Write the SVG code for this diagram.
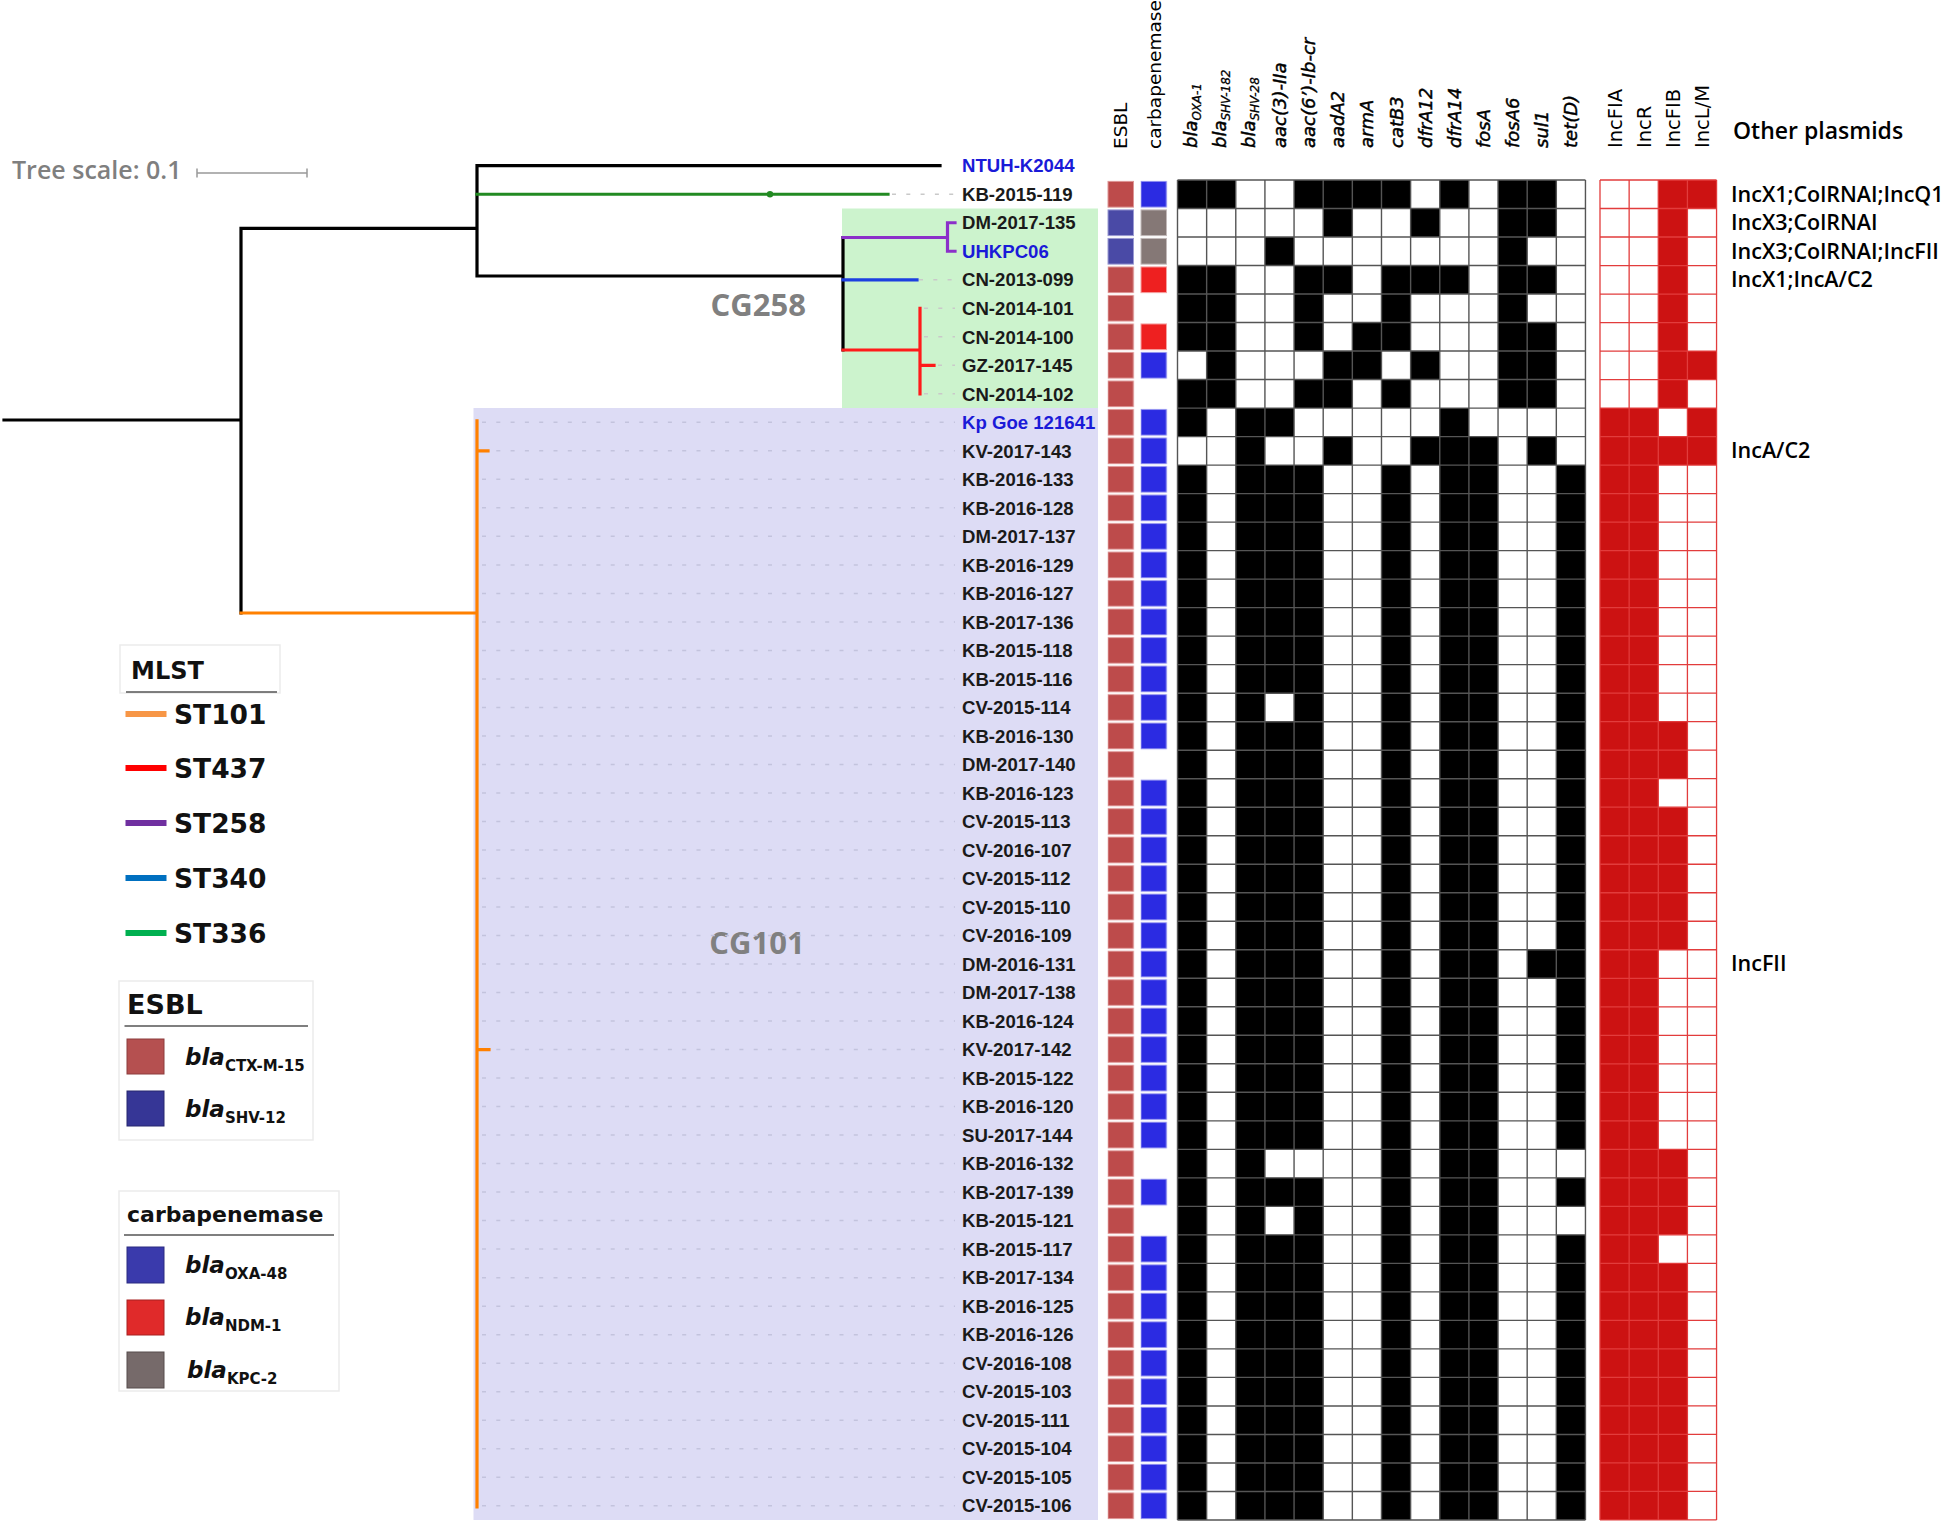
<svg xmlns="http://www.w3.org/2000/svg" width="1950" height="1524" viewBox="0 0 1950 1524">
<defs>
<style>
.lf{font-family:"Liberation Sans",Arial,sans-serif;font-weight:bold;font-size:18.6px;fill:#1a1a1a}
.lb{fill:#1a1ad8}
.hd{font-family:"DejaVu Sans",Verdana,sans-serif;font-size:18.5px;fill:#000}
.gi{font-style:italic;font-size:18px;stroke:#000;stroke-width:0.45px}
.sb{font-size:12px;stroke-width:0.3px}
.ph{font-family:"DejaVu Sans",Verdana,sans-serif;font-size:19.5px;fill:#000}
.op{font-family:"Open Sans",sans-serif;font-weight:600;font-size:21.5px;fill:#000}
.lg{font-family:"DejaVu Sans",Verdana,sans-serif;font-weight:bold;fill:#111}
.li{font-style:italic;font-size:23px}
.ls{font-size:15px}
.cg{font-family:"Open Sans",sans-serif;font-weight:700;font-size:31px;fill:#808080}
.br{fill:none;stroke-width:3.2;stroke-linecap:square}
.ld{fill:none;stroke-width:1.5;stroke-dasharray:4 10.3}
.nss{vector-effect:non-scaling-stroke}
.box{fill:#fff;stroke:#ebebeb;stroke-width:1.5}
.ul{stroke:#555;stroke-width:1.5}
</style>
<pattern id="pE" patternUnits="userSpaceOnUse" x="1107.5" y="180" width="30" height="28.51"><rect x="0.5" y="1.4" width="25.5" height="25.7" fill="#bd4b4b" stroke="#dd9595" stroke-width="1"/></pattern>
<pattern id="pO" patternUnits="userSpaceOnUse" x="1140.5" y="180" width="30" height="28.51"><rect x="0.5" y="1.4" width="25.5" height="25.7" fill="#2b2be2" stroke="#8f8ff0" stroke-width="1"/></pattern>
</defs>
<rect width="1950" height="1524" fill="#fff"/>

<!-- clade backgrounds -->
<g id="clade-boxes">
<rect x="842" y="208.5" width="256" height="199.5" fill="#ccf3cd"/>
<rect x="473.5" y="408" width="624.5" height="1112" fill="#dddcf5"/>
<text class="cg" x="806" y="316" text-anchor="end">CG258</text>
<text class="cg" x="757" y="954" text-anchor="middle">CG101</text>
</g>

<!-- tree scale -->
<g id="tree-scale">
<text x="12" y="179" font-family="Open Sans, sans-serif" font-weight="600" font-size="25" fill="#7f7f7f">Tree scale: 0.1</text>
<path d="M197 173H307M197 168.5V177.5M307 168.5V177.5" stroke="#999" stroke-width="1.5" fill="none"/>
</g>

<!-- connectors: tree branches and leader lines -->
<g id="connectors">
<path class="ld" stroke="#c9c9c9" d="M892 194.25H955M919 279.78H955M924 308.29H955M924 336.8H955M938 365.31H955M924 393.82H955"/>
<path class="ld" stroke="#c3c3dd" d="M482 422.33H955M482 450.84H955M482 479.35H955M482 507.86H955M482 536.37H955M482 564.88H955M482 593.39H955M482 621.9H955M482 650.41H955M482 678.92H955M482 707.43H955M482 735.94H955M482 764.45H955M482 792.96H955M482 821.47H955M482 849.98H955M482 878.49H955M482 907H955M482 935.51H955M482 964.02H955M482 992.53H955M482 1021.04H955M482 1049.55H955M482 1078.06H955M482 1106.57H955M482 1135.08H955M482 1163.59H955M482 1192.1H955M482 1220.61H955M482 1249.12H955M482 1277.63H955M482 1306.14H955M482 1334.65H955M482 1363.16H955M482 1391.67H955M482 1420.18H955M482 1448.69H955M482 1477.2H955M482 1505.71H955"/>
<path class="br" stroke="#000" d="M4 420H241M241 228.3V613M241 228.3H477M477 165.7V276M477 165.7H940M477 276H843M843 237.5V350"/>
<path class="br" stroke="#228a22" d="M477 194.25H888"/>
<circle cx="770" cy="194.25" r="3.2" fill="#228a22"/>
<path class="br" stroke="#8b2fc9" d="M843 237.5H947.5M947.5 222.76V251.27M947.5 222.76H955M947.5 251.27H955"/>
<path class="br" stroke="#1c3fe0" d="M843 279.8H917"/>
<path class="br" stroke="#ff1a1a" d="M843 350H920M920 308.3V393.8M920 365.3H934"/>
<path class="br" stroke="#ff8000" stroke-linecap="butt" d="M241 613H477M477 420.8V1507M477 450.84H488M477 1049.55H489"/>
</g>

<!-- leaves -->
<g id="leaf-NTUH-K2044"><text class="lf lb" x="962" y="172.4">NTUH-K2044</text></g>
<g id="leaf-KB-2015-119"><text class="lf" x="962" y="200.95">KB-2015-119</text></g>
<g id="leaf-DM-2017-135"><text class="lf" x="962" y="229.46">DM-2017-135</text></g>
<g id="leaf-UHKPC06"><text class="lf lb" x="962" y="257.97">UHKPC06</text></g>
<g id="leaf-CN-2013-099"><text class="lf" x="962" y="286.48">CN-2013-099</text></g>
<g id="leaf-CN-2014-101"><text class="lf" x="962" y="314.99">CN-2014-101</text></g>
<g id="leaf-CN-2014-100"><text class="lf" x="962" y="343.5">CN-2014-100</text></g>
<g id="leaf-GZ-2017-145"><text class="lf" x="962" y="372.01">GZ-2017-145</text></g>
<g id="leaf-CN-2014-102"><text class="lf" x="962" y="400.52">CN-2014-102</text></g>
<g id="leaf-Kp-Goe-121641"><text class="lf lb" x="962" y="429.03">Kp Goe 121641</text></g>
<g id="leaf-KV-2017-143"><text class="lf" x="962" y="457.54">KV-2017-143</text></g>
<g id="leaf-KB-2016-133"><text class="lf" x="962" y="486.05">KB-2016-133</text></g>
<g id="leaf-KB-2016-128"><text class="lf" x="962" y="514.56">KB-2016-128</text></g>
<g id="leaf-DM-2017-137"><text class="lf" x="962" y="543.07">DM-2017-137</text></g>
<g id="leaf-KB-2016-129"><text class="lf" x="962" y="571.58">KB-2016-129</text></g>
<g id="leaf-KB-2016-127"><text class="lf" x="962" y="600.09">KB-2016-127</text></g>
<g id="leaf-KB-2017-136"><text class="lf" x="962" y="628.6">KB-2017-136</text></g>
<g id="leaf-KB-2015-118"><text class="lf" x="962" y="657.11">KB-2015-118</text></g>
<g id="leaf-KB-2015-116"><text class="lf" x="962" y="685.62">KB-2015-116</text></g>
<g id="leaf-CV-2015-114"><text class="lf" x="962" y="714.13">CV-2015-114</text></g>
<g id="leaf-KB-2016-130"><text class="lf" x="962" y="742.64">KB-2016-130</text></g>
<g id="leaf-DM-2017-140"><text class="lf" x="962" y="771.15">DM-2017-140</text></g>
<g id="leaf-KB-2016-123"><text class="lf" x="962" y="799.66">KB-2016-123</text></g>
<g id="leaf-CV-2015-113"><text class="lf" x="962" y="828.17">CV-2015-113</text></g>
<g id="leaf-CV-2016-107"><text class="lf" x="962" y="856.68">CV-2016-107</text></g>
<g id="leaf-CV-2015-112"><text class="lf" x="962" y="885.19">CV-2015-112</text></g>
<g id="leaf-CV-2015-110"><text class="lf" x="962" y="913.7">CV-2015-110</text></g>
<g id="leaf-CV-2016-109"><text class="lf" x="962" y="942.21">CV-2016-109</text></g>
<g id="leaf-DM-2016-131"><text class="lf" x="962" y="970.72">DM-2016-131</text></g>
<g id="leaf-DM-2017-138"><text class="lf" x="962" y="999.23">DM-2017-138</text></g>
<g id="leaf-KB-2016-124"><text class="lf" x="962" y="1027.74">KB-2016-124</text></g>
<g id="leaf-KV-2017-142"><text class="lf" x="962" y="1056.25">KV-2017-142</text></g>
<g id="leaf-KB-2015-122"><text class="lf" x="962" y="1084.76">KB-2015-122</text></g>
<g id="leaf-KB-2016-120"><text class="lf" x="962" y="1113.27">KB-2016-120</text></g>
<g id="leaf-SU-2017-144"><text class="lf" x="962" y="1141.78">SU-2017-144</text></g>
<g id="leaf-KB-2016-132"><text class="lf" x="962" y="1170.29">KB-2016-132</text></g>
<g id="leaf-KB-2017-139"><text class="lf" x="962" y="1198.8">KB-2017-139</text></g>
<g id="leaf-KB-2015-121"><text class="lf" x="962" y="1227.31">KB-2015-121</text></g>
<g id="leaf-KB-2015-117"><text class="lf" x="962" y="1255.82">KB-2015-117</text></g>
<g id="leaf-KB-2017-134"><text class="lf" x="962" y="1284.33">KB-2017-134</text></g>
<g id="leaf-KB-2016-125"><text class="lf" x="962" y="1312.84">KB-2016-125</text></g>
<g id="leaf-KB-2016-126"><text class="lf" x="962" y="1341.35">KB-2016-126</text></g>
<g id="leaf-CV-2016-108"><text class="lf" x="962" y="1369.86">CV-2016-108</text></g>
<g id="leaf-CV-2015-103"><text class="lf" x="962" y="1398.37">CV-2015-103</text></g>
<g id="leaf-CV-2015-111"><text class="lf" x="962" y="1426.88">CV-2015-111</text></g>
<g id="leaf-CV-2015-104"><text class="lf" x="962" y="1455.39">CV-2015-104</text></g>
<g id="leaf-CV-2015-105"><text class="lf" x="962" y="1483.9">CV-2015-105</text></g>
<g id="leaf-CV-2015-106"><text class="lf" x="962" y="1512.41">CV-2015-106</text></g>

<!-- ESBL and carbapenemase columns -->
<g id="esbl-column">
<rect x="1108" y="181.4" width="25.5" height="25.7" fill="#bd4b4b" stroke="#dd9595" stroke-width="1"/>
<rect x="1108" y="209.91" width="25.5" height="25.7" fill="#4a4aa6" stroke="#9a9ad2" stroke-width="1"/>
<rect x="1108" y="238.42" width="25.5" height="25.7" fill="#4a4aa6" stroke="#9a9ad2" stroke-width="1"/>
<rect x="1107.5" y="265.53" width="27" height="1254.44" fill="url(#pE)"/>
</g>
<g id="carbapenemase-column">
<rect x="1140.5" y="180" width="27" height="28.51" fill="url(#pO)"/>
<rect x="1141" y="209.91" width="25.5" height="25.7" fill="#857876" stroke="#c2b9b9" stroke-width="1"/>
<rect x="1141" y="238.42" width="25.5" height="25.7" fill="#857876" stroke="#c2b9b9" stroke-width="1"/>
<rect x="1141" y="266.93" width="25.5" height="25.7" fill="#ee2020" stroke="#f5a0a0" stroke-width="1"/>
<rect x="1141" y="323.95" width="25.5" height="25.7" fill="#ee2020" stroke="#f5a0a0" stroke-width="1"/>
<rect x="1140.5" y="351.06" width="27" height="28.51" fill="url(#pO)"/>
<rect x="1140.5" y="408.08" width="27" height="342.12" fill="url(#pO)"/>
<rect x="1140.5" y="778.71" width="27" height="370.63" fill="url(#pO)"/>
<rect x="1140.5" y="1177.85" width="27" height="28.51" fill="url(#pO)"/>
<rect x="1140.5" y="1234.87" width="27" height="285.1" fill="url(#pO)"/>
</g>

<!-- gene presence matrix -->
<g id="gene-matrix" transform="translate(1177.5,180) scale(29.14,28.51)">
<rect width="14" height="47" fill="#fff"/>
<path fill="#000" d="M0 0h1v1h-1zM0 3h1v3h-1zM0 7h1v2h-1zM0 10h1v37h-1zM1 0h1v1h-1zM1 3h1v5h-1zM2 8h1v39h-1zM3 2h1v1h-1zM3 8h1v1h-1zM3 10h1v8h-1zM3 19h1v15h-1zM3 35h1v1h-1zM3 37h1v10h-1zM4 0h1v1h-1zM4 3h1v3h-1zM4 7h1v1h-1zM4 10h1v24h-1zM4 35h1v12h-1zM5 0h1v2h-1zM5 3h1v1h-1zM5 6h1v2h-1zM5 9h1v1h-1zM6 0h1v1h-1zM6 5h1v2h-1zM7 0h1v1h-1zM7 3h1v3h-1zM7 7h1v1h-1zM7 10h1v37h-1zM8 1h1v1h-1zM8 3h1v1h-1zM8 6h1v1h-1zM8 9h1v1h-1zM9 0h1v1h-1zM9 3h1v1h-1zM9 8h1v39h-1zM10 9h1v38h-1zM11 0h1v8h-1zM12 0h1v2h-1zM12 3h1v1h-1zM12 5h1v3h-1zM12 9h1v1h-1zM12 27h1v1h-1zM13 10h1v24h-1zM13 35h1v1h-1zM13 37h1v10h-1z"/>
<path class="nss" fill="none" stroke="#555" stroke-width="1.4" d="M0 0H14M0 1H14M0 2H14M0 3H14M0 4H14M0 5H14M0 6H14M0 7H14M0 8H14M0 9H14M0 10H14M0 11H14M0 12H14M0 13H14M0 14H14M0 15H14M0 16H14M0 17H14M0 18H14M0 19H14M0 20H14M0 21H14M0 22H14M0 23H14M0 24H14M0 25H14M0 26H14M0 27H14M0 28H14M0 29H14M0 30H14M0 31H14M0 32H14M0 33H14M0 34H14M0 35H14M0 36H14M0 37H14M0 38H14M0 39H14M0 40H14M0 41H14M0 42H14M0 43H14M0 44H14M0 45H14M0 46H14M0 47H14M0 0V47M1 0V47M2 0V47M3 0V47M4 0V47M5 0V47M6 0V47M7 0V47M8 0V47M9 0V47M10 0V47M11 0V47M12 0V47M13 0V47M14 0V47"/>
</g>

<!-- plasmid replicon matrix -->
<g id="plasmid-matrix" transform="translate(1600,180) scale(29.14,28.51)">
<rect width="4" height="47" fill="#fff"/>
<path fill="#cc1212" d="M0 8h2v39h-2zM2 0h1v8h-1zM2 9h1v1h-1zM2 19h1v2h-1zM2 22h1v5h-1zM2 34h1v3h-1zM2 38h1v9h-1zM3 0h1v1h-1zM3 6h1v1h-1zM3 8h1v2h-1z"/>
<path class="nss" fill="none" stroke="#e23c3c" stroke-width="1.3" d="M0 0H4M0 1H4M0 2H4M0 3H4M0 4H4M0 5H4M0 6H4M0 7H4M0 8H4M0 9H4M0 10H4M0 11H4M0 12H4M0 13H4M0 14H4M0 15H4M0 16H4M0 17H4M0 18H4M0 19H4M0 20H4M0 21H4M0 22H4M0 23H4M0 24H4M0 25H4M0 26H4M0 27H4M0 28H4M0 29H4M0 30H4M0 31H4M0 32H4M0 33H4M0 34H4M0 35H4M0 36H4M0 37H4M0 38H4M0 39H4M0 40H4M0 41H4M0 42H4M0 43H4M0 44H4M0 45H4M0 46H4M0 47H4M0 0V47M1 0V47M2 0V47M3 0V47M4 0V47"/>
</g>

<!-- column headers -->
<g id="headers">
<text class="hd" transform="translate(1127.2,149) rotate(-90)">ESBL</text>
<text class="hd" transform="translate(1160.5,149) rotate(-90)">carbapenemase</text>
<text class="hd gi" transform="translate(1196.5,148) rotate(-90)">bla<tspan class="sb" dy="4">OXA-1</tspan></text>
<text class="hd gi" transform="translate(1225.6,148) rotate(-90)">bla<tspan class="sb" dy="4">SHV-182</tspan></text>
<text class="hd gi" transform="translate(1254.8,148) rotate(-90)">bla<tspan class="sb" dy="4">SHV-28</tspan></text>
<text class="hd gi" transform="translate(1286,148) rotate(-90)">aac(3)-IIa</text>
<text class="hd gi" transform="translate(1315.1,148) rotate(-90)">aac(6’)-Ib-cr</text>
<text class="hd gi" transform="translate(1344.3,148) rotate(-90)">aadA2</text>
<text class="hd gi" transform="translate(1373.4,148) rotate(-90)">armA</text>
<text class="hd gi" transform="translate(1402.6,148) rotate(-90)">catB3</text>
<text class="hd gi" transform="translate(1431.7,148) rotate(-90)">dfrA12</text>
<text class="hd gi" transform="translate(1460.8,148) rotate(-90)">dfrA14</text>
<text class="hd gi" transform="translate(1490,148) rotate(-90)">fosA</text>
<text class="hd gi" transform="translate(1519.1,148) rotate(-90)">fosA6</text>
<text class="hd gi" transform="translate(1548.3,148) rotate(-90)">sul1</text>
<text class="hd gi" transform="translate(1577.4,148) rotate(-90)">tet(D)</text>
<text class="ph" transform="translate(1621.8,148) rotate(-90)">IncFIA</text>
<text class="ph" transform="translate(1650.9,148) rotate(-90)">IncR</text>
<text class="ph" transform="translate(1680.1,148) rotate(-90)">IncFIB</text>
<text class="ph" transform="translate(1709.2,148) rotate(-90)">IncL/M</text>
<text x="1733" y="139" font-family="Open Sans, sans-serif" font-weight="600" font-size="23" fill="#000">Other plasmids</text>
</g>

<!-- other plasmids -->
<g id="other-plasmids">
<text class="op" x="1731" y="201.5">IncX1;ColRNAI;IncQ1</text>
<text class="op" x="1731" y="230">IncX3;ColRNAI</text>
<text class="op" x="1731" y="258.5">IncX3;ColRNAI;IncFII</text>
<text class="op" x="1731" y="287">IncX1;IncA/C2</text>
<text class="op" x="1731" y="458">IncA/C2</text>
<text class="op" x="1731" y="971.3">IncFII</text>
</g>

<!-- legends -->
<g id="legend-mlst">
<rect class="box" x="120" y="645" width="160" height="48"/>
<line class="ul" x1="126" y1="692" x2="277" y2="692"/>
<text class="lg" x="131" y="679" font-size="24">MLST</text>
<path d="M125.5 714H166.5" stroke="#f79646" stroke-width="6"/>
<path d="M125.5 768H166.5" stroke="#ff0000" stroke-width="6"/>
<path d="M125.5 823H166.5" stroke="#7030a0" stroke-width="6"/>
<path d="M125.5 878H166.5" stroke="#0070c0" stroke-width="6"/>
<path d="M125.5 933H166.5" stroke="#00b050" stroke-width="6"/>
<text class="lg" x="174" y="724" font-size="26.5">ST101</text>
<text class="lg" x="174" y="778" font-size="26.5">ST437</text>
<text class="lg" x="174" y="833" font-size="26.5">ST258</text>
<text class="lg" x="174" y="888" font-size="26.5">ST340</text>
<text class="lg" x="174" y="943" font-size="26.5">ST336</text>
</g>
<g id="legend-esbl">
<rect class="box" x="119" y="981" width="194" height="159"/>
<line class="ul" x1="124.5" y1="1026" x2="308" y2="1026"/>
<text class="lg" x="127" y="1014" font-size="27">ESBL</text>
<rect x="127" y="1039" width="37" height="35" fill="#b55050" stroke="#8c3c3c" stroke-width="1"/>
<rect x="127" y="1091" width="37" height="35" fill="#363696" stroke="#26266e" stroke-width="1"/>
<text class="lg li" x="185" y="1065">bla<tspan class="ls" font-style="normal" dy="6">CTX-M-15</tspan></text>
<text class="lg li" x="185" y="1117">bla<tspan class="ls" font-style="normal" dy="6">SHV-12</tspan></text>
</g>
<g id="legend-carbapenemase">
<rect class="box" x="119" y="1191" width="220" height="200"/>
<line class="ul" x1="124" y1="1235" x2="334" y2="1235"/>
<text class="lg" x="127" y="1222" font-size="22">carbapenemase</text>
<rect x="127" y="1247" width="37" height="36" fill="#3a3aac" stroke="#2a2a80" stroke-width="1"/>
<rect x="127" y="1300" width="37" height="35" fill="#e02a2a" stroke="#a82020" stroke-width="1"/>
<rect x="127" y="1352" width="37" height="36" fill="#766a6a" stroke="#564c4c" stroke-width="1"/>
<text class="lg li" x="185" y="1273">bla<tspan class="ls" font-style="normal" dy="6">OXA-48</tspan></text>
<text class="lg li" x="185" y="1325">bla<tspan class="ls" font-style="normal" dy="6">NDM-1</tspan></text>
<text class="lg li" x="187" y="1378">bla<tspan class="ls" font-style="normal" dy="6">KPC-2</tspan></text>
</g>
</svg>
